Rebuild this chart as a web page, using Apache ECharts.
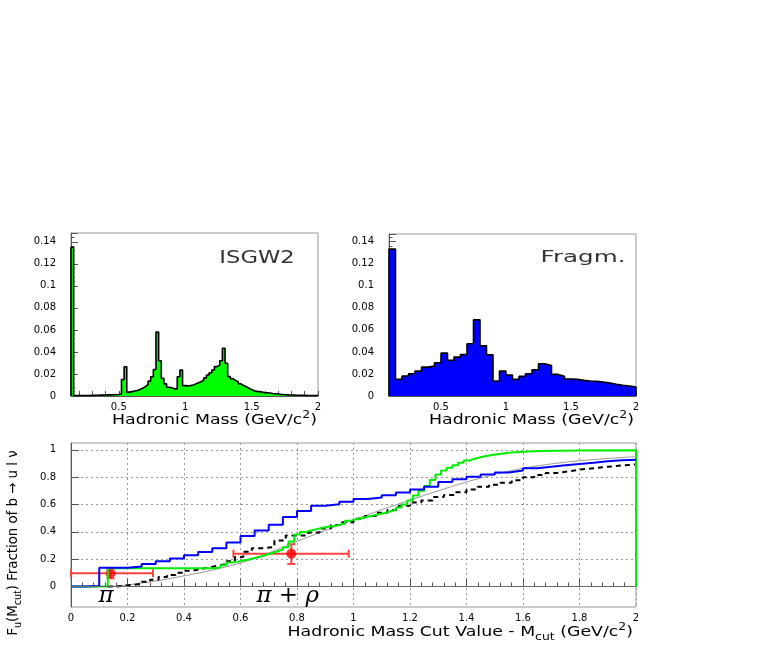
<!DOCTYPE html>
<html><head><meta charset="utf-8">
<script src="https://cdn.jsdelivr.net/npm/echarts@6/dist/echarts.min.js"></script>
<style>html,body{margin:0;padding:0;background:#fff}#c{width:763px;height:654px}</style>
</head><body><div id="c"></div>
<script>
// ---------------- data ----------------
// ISGW2 hadronic mass spectrum (bins of 0.02 starting at 0.14 GeV)
const isgwLow = 0.14, isgwWidth = 0.02;
const isgwValues = [0.135,0.0003,0.0003,0.0004,0.0004,0.0005,0.0005,0.0006,0.0006,0.0007,
 0.0008,0.0008,0.0009,0.001,0.001,0.0011,0.0012,0.0014,0.002,0.015,
 0.0265,0.0035,0.004,0.0045,0.005,0.006,0.007,0.0085,0.0103,0.0135,
 0.0175,0.024,0.058,0.032,0.016,0.011,0.008,0.0075,0.0065,0.0065,
 0.0175,0.0236,0.0094,0.0092,0.0095,0.01,0.011,0.012,0.013,0.0145,
 0.0165,0.019,0.021,0.0236,0.0267,0.028,0.032,0.0433,0.0297,0.0176,
 0.0157,0.014,0.013,0.011,0.0095,0.0085,0.007,0.006,0.0048,0.0042,
 0.004,0.0035,0.003,0.003,0.0027,0.0022,0.002,0.0018,0.0015,0.0013,
 0.0012,0.001,0.0009,0.0008,0.0007,0.0007,0.0006,0.0006,0.0005,0.0005,
 0.0005,0.0004,0.0004];
// Fragmentation model spectrum (bins of 0.05 starting at 0.1 GeV)
const fragLow = 0.1, fragWidth = 0.05;
const fragValues = [0.1333,0.0151,0.0181,0.0202,0.0226,0.0262,0.0271,0.0302,0.0389,0.0323,
 0.0353,0.0377,0.0474,0.0691,0.0455,0.0374,0.0136,0.0226,0.019,0.0151,
 0.0178,0.0202,0.0238,0.0293,0.0277,0.0196,0.0178,0.0154,0.0151,0.0142,
 0.0136,0.0133,0.0127,0.0118,0.0106,0.0097,0.009,0.0081];
// cumulative fractions vs M_cut
const blueX = [0,0.05,0.1,0.2,0.25,0.3,0.35,0.4,0.45,0.5,0.55,0.6,0.65,0.7,0.75,0.8,0.85,0.9,0.95,1.0,
 1.05,1.1,1.15,1.2,1.25,1.3,1.35,1.4,1.45,1.5,1.55,1.6,1.65,1.7,1.75,1.8,1.85,1.9,1.95,2.0];
const blueY = [0,0.004,0.137,0.147,0.165,0.184,0.205,0.228,0.252,0.28,0.322,0.37,0.41,0.452,0.508,0.553,0.59,0.602,0.62,0.64,
 0.651,0.668,0.688,0.71,0.73,0.765,0.784,0.803,0.82,0.835,0.848,0.865,0.877,0.887,0.897,0.906,0.917,0.924,0.928,0.928];
const greenX = [0,0.13,0.51,0.53,0.55,0.57,0.59,0.61,0.63,0.65,0.67,0.69,0.71,0.73,0.75,0.77,0.79,0.81,0.83,0.85,
 0.87,0.89,0.91,0.93,0.95,0.97,0.99,1.01,1.03,1.05,1.07,1.09,1.11,1.13,1.15,1.17,1.19,1.21,1.23,1.25,
 1.27,1.29,1.31,1.33,1.35,1.37,1.39,1.41,1.43,1.45,1.47,1.49,1.51,1.53,1.55,1.57,1.59,1.62,1.66,1.72,
 1.8,2.0,2.0];
const greenY = [0,0.133,0.14,0.155,0.175,0.182,0.19,0.198,0.208,0.218,0.23,0.243,0.256,0.27,0.287,0.33,0.38,0.398,0.41,0.42,
 0.43,0.437,0.443,0.45,0.463,0.482,0.492,0.5,0.51,0.519,0.528,0.538,0.549,0.562,0.578,0.6,0.63,0.665,0.7,0.735,
 0.78,0.82,0.848,0.868,0.888,0.905,0.922,0.935,0.946,0.955,0.962,0.968,0.974,0.978,0.982,0.985,0.988,0.991,0.994,0.996,
 0.997,0.997,0];
const dashX = [0.13,0.16,0.19,0.22,0.25,0.28,0.31,0.34,0.37,0.4,0.43,0.46,0.49,0.52,0.55,0.58,0.61,0.64,0.68,0.72,
 0.76,0.84,0.88,0.92,0.96,1.0,1.04,1.08,1.12,1.16,1.2,1.24,1.28,1.32,1.36,1.4,1.44,1.48,1.52,1.56,
 1.6,1.64,1.68,1.72,1.76,1.8,1.84,1.88,1.92,1.96,2.0];
const dashY = [0,0.006,0.012,0.02,0.035,0.05,0.07,0.085,0.1,0.115,0.128,0.14,0.152,0.165,0.185,0.215,0.255,0.28,0.29,0.337,
 0.374,0.395,0.425,0.45,0.47,0.495,0.515,0.54,0.56,0.59,0.615,0.63,0.655,0.67,0.69,0.71,0.73,0.745,0.76,0.778,
 0.8,0.815,0.83,0.842,0.855,0.863,0.872,0.88,0.887,0.893,0.895];
const grayX = [0.13,0.2,0.3,0.4,0.5,0.6,0.7,0.8,0.9,1.0,1.1,1.2,1.3,1.4,1.5,1.6,1.7,1.8,1.9,2.0];
const grayY = [0,0.012,0.04,0.078,0.12,0.172,0.245,0.33,0.41,0.487,0.562,0.632,0.7,0.765,0.82,0.865,0.897,0.92,0.937,0.95];
// measurements
const measX = [0.14, 0.78];
const measY = [0.097, 0.24];
const measXLo = [0, 0.575];
const measXHi = [0.29, 0.983];
const measYLo = [0.06, 0.165];
const measYHi = [0.133, 0.31];
// tick labels
const topXLabels = [0.5, 1, 1.5, 2];
const topXTicks = [0.2,0.3,0.4,0.5,0.6,0.7,0.8,0.9,1,1.1,1.2,1.3,1.4,1.5,1.6,1.7,1.8,1.9,2];
const botYLabels = [0, 0.2, 0.4, 0.6, 0.8, 1];

// ---------------- helpers ----------------
function histLine(low, w, vals) {
  const pts = [[low, 0]];
  vals.forEach((v, i) => pts.push([low + i * w, v]));
  const hi = low + vals.length * w;
  pts.push([hi, vals[vals.length - 1]]);
  pts.push([hi, 0]);
  return pts;
}
const zip = (xs, ys) => xs.map((x, i) => [x, ys[i]]);

const chart = echarts.init(document.getElementById('c'));
const tickFont = { fontFamily: 'DejaVu Sans', fontSize: 10, color: '#000' };
const axisCol = '#555';

function topX(idx, min) {
  return {
    gridIndex: idx, type: 'value', min: min, max: 2,
    axisLine: { lineStyle: { color: axisCol } },
    axisTick: { inside: true, length: 5, customValues: topXTicks, lineStyle: { color: axisCol } },
    axisLabel: Object.assign({ customValues: topXLabels, margin: 6 }, tickFont),
    splitLine: { show: false }
  };
}
function topY(idx, max) {
  return {
    gridIndex: idx, type: 'value', min: 0, max: max, interval: 0.02,
    axisLine: { show: true, lineStyle: { color: axisCol } },
    axisTick: { inside: true, length: 7, lineStyle: { color: axisCol } },
    minorTick: { show: true, splitNumber: 5, length: 3.5, lineStyle: { color: axisCol } },
    axisLabel: Object.assign({ margin: 15, showMaxLabel: false }, tickFont),
    splitLine: { show: false }
  };
}

const richBase = {
  a: { fontFamily: 'DejaVu Sans', fontSize: 14, lineHeight: 20, fill: '#000' },
  s: { fontFamily: 'DejaVu Sans', fontSize: 10, lineHeight: 10, verticalAlign: 'bottom', fill: '#000' },
  p: { fontFamily: 'DejaVu Sans', fontSize: 10, lineHeight: 10, verticalAlign: 'top', fill: '#000' }
};
function titleText(x, y, text, opts) {
  return Object.assign({
    type: 'text', x: x, y: y, silent: true,
    style: { text: text, rich: richBase, align: 'right', verticalAlign: 'middle' }
  }, opts || {});
}

const option = {
  animation: false,
  backgroundColor: '#fff',
  grid: [
    { left: 71, top: 233, width: 247, height: 163, show: true, borderColor: '#999', borderWidth: 1 },
    { left: 389, top: 234, width: 247, height: 162, show: true, borderColor: '#999', borderWidth: 1 },
    { left: 71, top: 443, width: 565, height: 164, show: true, borderColor: '#999', borderWidth: 1 }
  ],
  xAxis: [
    topX(0, isgwLow),
    topX(1, fragLow),
    {
      gridIndex: 2, type: 'value', min: 0, max: 2, interval: 0.2,
      axisLine: { lineStyle: { color: axisCol } },
      axisTick: { inside: true, length: 8, lineStyle: { color: axisCol } },
      minorTick: { show: true, splitNumber: 5, length: 4, lineStyle: { color: axisCol } },
      axisLabel: Object.assign({ margin: 6 }, tickFont),
      splitLine: { show: true, lineStyle: { color: '#999', type: [2, 3], width: 1 } }
    }
  ],
  yAxis: [
    topY(0, 0.148),
    topY(1, 0.147),
    {
      gridIndex: 2, type: 'value', min: -0.15, max: 1.05,
      axisLine: { show: true, lineStyle: { color: axisCol } },
      axisTick: { inside: true, length: 8, customValues: botYLabels, lineStyle: { color: axisCol } },
      axisLabel: Object.assign({ margin: 15, customValues: botYLabels }, tickFont),
      splitLine: { show: true, lineStyle: { color: '#999', type: [2, 3], width: 1 } }
    }
  ],
  series: [
    {
      type: 'line', xAxisIndex: 0, yAxisIndex: 0, step: 'end', symbol: 'none',
      data: histLine(isgwLow, isgwWidth, isgwValues),
      lineStyle: { color: '#000', width: 1.6 },
      areaStyle: { color: '#00ff00', opacity: 1 }
    },
    {
      type: 'line', xAxisIndex: 1, yAxisIndex: 1, step: 'end', symbol: 'none',
      data: histLine(fragLow, fragWidth, fragValues),
      lineStyle: { color: '#000', width: 1.6 },
      areaStyle: { color: '#0000ff', opacity: 1 }
    },
    {
      type: 'line', xAxisIndex: 2, yAxisIndex: 2, smooth: 0.3, symbol: 'none',
      data: zip(grayX, grayY),
      lineStyle: { color: '#999', width: 1 },
      markLine: {
        silent: true, symbol: 'none', label: { show: false },
        lineStyle: { color: '#666', type: 'solid', width: 1 },
        data: [{ yAxis: 0 }]
      },
      markPoint: {
        silent: true, symbol: 'circle', symbolSize: 0,
        label: { show: true, position: 'inside', formatter: '{b}', fontFamily: 'DejaVu Serif', fontStyle: 'italic', fontSize: 23, color: '#000' },
        data: [
          { name: 'π', coord: [0.124, -0.07] },
          { name: 'π + ρ', coord: [0.767, -0.073] }
        ]
      }
    },
    {
      type: 'line', xAxisIndex: 2, yAxisIndex: 2, step: 'end', symbol: 'none',
      data: zip(dashX, dashY),
      lineStyle: { color: '#000', width: 2, type: [5, 4] }
    },
    {
      type: 'line', xAxisIndex: 2, yAxisIndex: 2, step: 'end', symbol: 'none',
      data: zip(greenX, greenY),
      lineStyle: { color: '#00ee00', width: 2 }
    },
    {
      type: 'line', xAxisIndex: 2, yAxisIndex: 2, step: 'end', symbol: 'none',
      data: zip(blueX, blueY),
      lineStyle: { color: '#0000ff', width: 2 }
    },
    {
      type: 'custom', xAxisIndex: 2, yAxisIndex: 2,
      data: measX.map((x, i) => [x, measY[i], measXLo[i], measXHi[i], measYLo[i], measYHi[i]]),
      encode: { x: [0, 2, 3], y: [1, 4, 5] },
      renderItem: function (params, api) {
        const x = api.value(0), y = api.value(1);
        const l = api.coord([api.value(2), y]);
        const r = api.coord([api.value(3), y]);
        const b = api.coord([x, api.value(4)]);
        const t = api.coord([x, api.value(5)]);
        const cap = 4;
        const st = { stroke: '#ff4040', lineWidth: 2 };
        const seg = (x1, y1, x2, y2) => ({ type: 'line', shape: { x1, y1, x2, y2 }, style: st });
        return {
          type: 'group', children: [
            seg(l[0], l[1], r[0], r[1]),
            seg(l[0], l[1] - cap, l[0], l[1] + cap),
            seg(r[0], r[1] - cap, r[0], r[1] + cap),
            seg(b[0], b[1], t[0], t[1]),
            seg(b[0] - cap, b[1], b[0] + cap, b[1]),
            seg(t[0] - cap, t[1], t[0] + cap, t[1])
          ]
        };
      }
    },
    {
      type: 'scatter', xAxisIndex: 2, yAxisIndex: 2, symbol: 'circle', symbolSize: 10,
      data: zip(measX, measY),
      itemStyle: { color: '#ff0000' }
    }
  ],
  graphic: [
    { type: 'text', x: 257, y: 259, scaleX: 1.33, silent: true,
      style: { text: 'ISGW2', fontFamily: 'DejaVu Sans', fontSize: 17, fill: '#333', align: 'center', verticalAlign: 'middle' } },
    { type: 'text', x: 583, y: 258, scaleX: 1.64, silent: true,
      style: { text: 'Fragm.', fontFamily: 'DejaVu Sans', fontSize: 15, fill: '#333', align: 'center', verticalAlign: 'middle' } },
    titleText(317, 420, '{a|Hadronic Mass (GeV/c}{p|2}{a|)}', { scaleX: 1.24 }),
    titleText(634, 420, '{a|Hadronic Mass (GeV/c}{p|2}{a|)}', { scaleX: 1.24 }),
    titleText(633, 632, '{a|Hadronic Mass Cut Value - M}{s|cut}{a| (GeV/c}{p|2}{a|)}', { scaleX: 1.24 }),
    { type: 'text', x: 13, y: 543, rotation: Math.PI / 2, scaleX: 0.95, silent: true,
      style: { text: '{a|F}{s|u}{a|(M}{s|cut}{a|) Fraction of b → u l ν}', rich: richBase, align: 'center', verticalAlign: 'middle' } }
  ]
};
chart.setOption(option);
</script>
</body></html>
